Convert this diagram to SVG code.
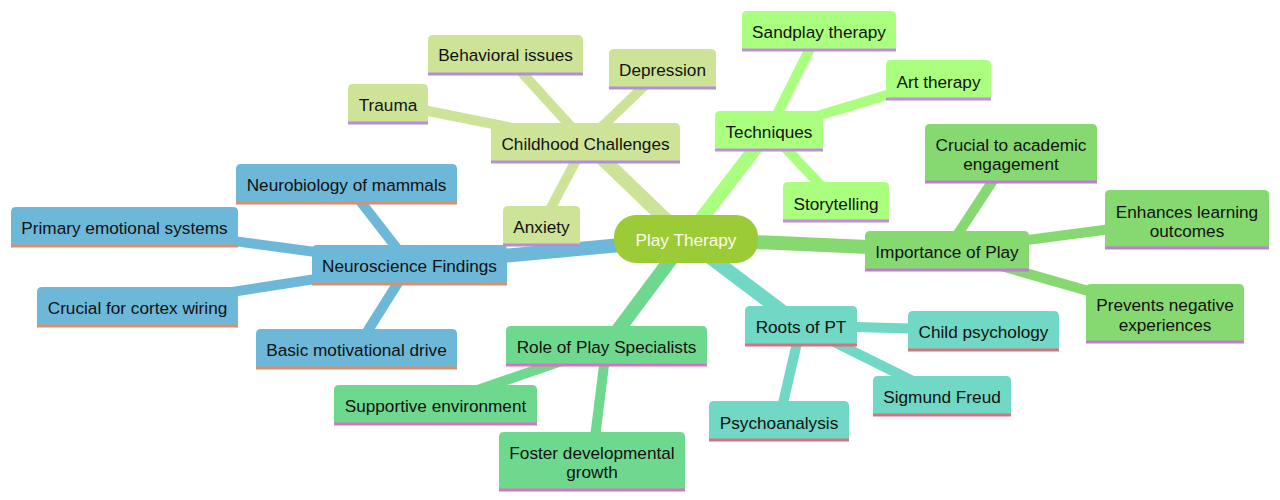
<svg xmlns="http://www.w3.org/2000/svg" width="1280" height="500" viewBox="0 0 1280 500">
<style>
text{font-family:"Liberation Sans",Arial,sans-serif;font-size:17.2px;fill:#111;text-anchor:middle}
.e0{stroke-width:14;fill:none;stroke-linecap:butt}
.e1{stroke-width:10;fill:none;stroke-linecap:butt}
.ln{fill:none;stroke-width:3}
.cc .b{fill:#cde498}.cc .ln{stroke:#b28fd8}.ccE{stroke:#cde498}
.te .b{fill:#aaff7f}.te .ln{stroke:#c28bdb}.teE{stroke:#aaff7f}
.im .b{fill:#85d970}.im .ln{stroke:#c478d8}.imE{stroke:#85d970}
.ro .b{fill:#70d8c4}.ro .ln{stroke:#d77182}.roE{stroke:#70d8c4}
.rp .b{fill:#6fd88f}.rp .ln{stroke:#d872c3}.rpE{stroke:#6fd88f}
.ne .b{fill:#6db8d9}.ne .ln{stroke:#d98f6e}.neE{stroke:#6db8d9}
</style>
<g id="connectors">
<line class="e0 ccE" x1="686" y1="239" x2="585.5" y2="142.5"/>
<line class="e1 ccE" x1="585.5" y1="142.5" x2="388" y2="103"/>
<line class="e1 ccE" x1="585.5" y1="142.5" x2="505.5" y2="54.5"/>
<line class="e1 ccE" x1="585.5" y1="142.5" x2="662.5" y2="68.5"/>
<line class="e1 ccE" x1="585.5" y1="142.5" x2="541.5" y2="225.5"/>
<line class="e0 teE" x1="686" y1="239" x2="769" y2="130.5"/>
<line class="e1 teE" x1="769" y1="130.5" x2="819" y2="30.5"/>
<line class="e1 teE" x1="769" y1="130.5" x2="938.5" y2="79.5"/>
<line class="e1 teE" x1="769" y1="130.5" x2="836" y2="201.5"/>
<line class="e0 imE" x1="686" y1="239" x2="947" y2="250.5"/>
<line class="e1 imE" x1="947" y1="250.5" x2="1011" y2="153"/>
<line class="e1 imE" x1="947" y1="250.5" x2="1187" y2="219"/>
<line class="e1 imE" x1="947" y1="250.5" x2="1165" y2="313"/>
<line class="e0 roE" x1="686" y1="239" x2="801" y2="325.5"/>
<line class="e1 roE" x1="801" y1="325.5" x2="983.5" y2="330.5"/>
<line class="e1 roE" x1="801" y1="325.5" x2="942" y2="395.5"/>
<line class="e1 roE" x1="801" y1="325.5" x2="779" y2="420.5"/>
<line class="e0 rpE" x1="686" y1="239" x2="606.5" y2="345.5"/>
<line class="e1 rpE" x1="606.5" y1="345.5" x2="435.5" y2="404.5"/>
<line class="e1 rpE" x1="606.5" y1="345.5" x2="592" y2="461"/>
<line class="e0 neE" x1="686" y1="239" x2="409.5" y2="264.5"/>
<line class="e1 neE" x1="409.5" y1="264.5" x2="346.5" y2="183.5"/>
<line class="e1 neE" x1="409.5" y1="264.5" x2="124.5" y2="226.5"/>
<line class="e1 neE" x1="409.5" y1="264.5" x2="137.5" y2="306.5"/>
<line class="e1 neE" x1="409.5" y1="264.5" x2="356.5" y2="348.5"/>
</g>
<g id="root">
<rect x="614" y="215" width="144" height="48" rx="22" fill="#9ccb38"/>
<text x="686" y="246" style="fill:#fcfce8">Play Therapy</text>
</g>
<g id="childhood" class="cc">
<path class="b" d="M491 162V128Q491 123 496 123H675Q680 123 680 128V162Z"/><path class="ln" d="M491 162H680"/>
<text x="585.5" y="150">Childhood Challenges</text>
</g>
<g id="trauma" class="cc">
<path class="b" d="M348 123V89Q348 84 353 84H423Q428 84 428 89V123Z"/><path class="ln" d="M348 123H428"/>
<text x="388" y="111">Trauma</text>
</g>
<g id="behavioral" class="cc">
<path class="b" d="M428 74V40Q428 35 433 35H578Q583 35 583 40V74Z"/><path class="ln" d="M428 74H583"/>
<text x="505.5" y="61">Behavioral issues</text>
</g>
<g id="depression" class="cc">
<path class="b" d="M609 88V54Q609 49 614 49H711Q716 49 716 54V88Z"/><path class="ln" d="M609 88H716"/>
<text x="662.5" y="76">Depression</text>
</g>
<g id="anxiety" class="cc">
<path class="b" d="M503 245V211Q503 206 508 206H575Q580 206 580 211V245Z"/><path class="ln" d="M503 245H580"/>
<text x="541.5" y="233">Anxiety</text>
</g>
<g id="techniques" class="te">
<path class="b" d="M715 150V116Q715 111 720 111H818Q823 111 823 116V150Z"/><path class="ln" d="M715 150H823"/>
<text x="769" y="138">Techniques</text>
</g>
<g id="sandplay" class="te">
<path class="b" d="M742 50V16Q742 11 747 11H891Q896 11 896 16V50Z"/><path class="ln" d="M742 50H896"/>
<text x="819" y="38">Sandplay therapy</text>
</g>
<g id="art" class="te">
<path class="b" d="M886 99V65Q886 60 891 60H986Q991 60 991 65V99Z"/><path class="ln" d="M886 99H991"/>
<text x="938.5" y="88">Art therapy</text>
</g>
<g id="storytelling" class="te">
<path class="b" d="M783 221V187Q783 182 788 182H884Q889 182 889 187V221Z"/><path class="ln" d="M783 221H889"/>
<text x="836" y="210">Storytelling</text>
</g>
<g id="importance" class="im">
<path class="b" d="M865 270V236Q865 231 870 231H1024Q1029 231 1029 236V270Z"/><path class="ln" d="M865 270H1029"/>
<text x="947" y="258">Importance of Play</text>
</g>
<g id="crucial" class="im">
<path class="b" d="M925 182V129Q925 124 930 124H1092Q1097 124 1097 129V182Z"/><path class="ln" d="M925 182H1097"/>
<text x="1011" y="151">Crucial to academic</text><text x="1011" y="170">engagement</text>
</g>
<g id="enhances" class="im">
<path class="b" d="M1105 248V195Q1105 190 1110 190H1264Q1269 190 1269 195V248Z"/><path class="ln" d="M1105 248H1269"/>
<text x="1187" y="218">Enhances learning</text><text x="1187" y="237">outcomes</text>
</g>
<g id="prevents" class="im">
<path class="b" d="M1086 342V289Q1086 284 1091 284H1239Q1244 284 1244 289V342Z"/><path class="ln" d="M1086 342H1244"/>
<text x="1165" y="311">Prevents negative</text><text x="1165" y="331">experiences</text>
</g>
<g id="roots" class="ro">
<path class="b" d="M745 345V311Q745 306 750 306H852Q857 306 857 311V345Z"/><path class="ln" d="M745 345H857"/>
<text x="801" y="333">Roots of PT</text>
</g>
<g id="childpsych" class="ro">
<path class="b" d="M908 350V316Q908 311 913 311H1054Q1059 311 1059 316V350Z"/><path class="ln" d="M908 350H1059"/>
<text x="983.5" y="338">Child psychology</text>
</g>
<g id="freud" class="ro">
<path class="b" d="M873 415V381Q873 376 878 376H1006Q1011 376 1011 381V415Z"/><path class="ln" d="M873 415H1011"/>
<text x="942" y="403">Sigmund Freud</text>
</g>
<g id="psychoanalysis" class="ro">
<path class="b" d="M709 440V406Q709 401 714 401H844Q849 401 849 406V440Z"/><path class="ln" d="M709 440H849"/>
<text x="779" y="429">Psychoanalysis</text>
</g>
<g id="role" class="rp">
<path class="b" d="M506 365V331Q506 326 511 326H702Q707 326 707 331V365Z"/><path class="ln" d="M506 365H707"/>
<text x="606.5" y="353">Role of Play Specialists</text>
</g>
<g id="supportive" class="rp">
<path class="b" d="M334 424V390Q334 385 339 385H532Q537 385 537 390V424Z"/><path class="ln" d="M334 424H537"/>
<text x="435.5" y="412">Supportive environment</text>
</g>
<g id="foster" class="rp">
<path class="b" d="M499 490V437Q499 432 504 432H680Q685 432 685 437V490Z"/><path class="ln" d="M499 490H685"/>
<text x="592" y="459">Foster developmental</text><text x="592" y="478">growth</text>
</g>
<g id="neuroscience" class="ne">
<path class="b" d="M312 284V250Q312 245 317 245H502Q507 245 507 250V284Z"/><path class="ln" d="M312 284H507"/>
<text x="409.5" y="272">Neuroscience Findings</text>
</g>
<g id="neurobiology" class="ne">
<path class="b" d="M236 203V169Q236 164 241 164H452Q457 164 457 169V203Z"/><path class="ln" d="M236 203H457"/>
<text x="346.5" y="191">Neurobiology of mammals</text>
</g>
<g id="primary" class="ne">
<path class="b" d="M11 246V212Q11 207 16 207H233Q238 207 238 212V246Z"/><path class="ln" d="M11 246H238"/>
<text x="124.5" y="234">Primary emotional systems</text>
</g>
<g id="cortex" class="ne">
<path class="b" d="M37 326V292Q37 287 42 287H233Q238 287 238 292V326Z"/><path class="ln" d="M37 326H238"/>
<text x="137.5" y="314">Crucial for cortex wiring</text>
</g>
<g id="basic" class="ne">
<path class="b" d="M256 368V334Q256 329 261 329H452Q457 329 457 334V368Z"/><path class="ln" d="M256 368H457"/>
<text x="356.5" y="356">Basic motivational drive</text>
</g>
</svg>
